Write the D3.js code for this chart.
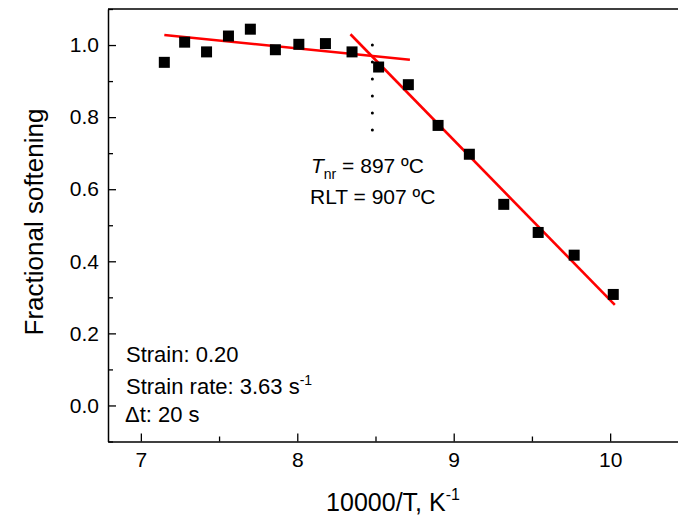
<!DOCTYPE html>
<html>
<head>
<meta charset="utf-8">
<script src="https://cdn.jsdelivr.net/npm/d3@7"></script>
<style>
  body { margin: 0; background: #fff; }
  svg { display: block; font-family: "Liberation Sans", Arial, sans-serif; }
</style>
</head>
<body>
<div id="chart"></div>
<script>
// measured points (10000/T, fractional softening)
var invT = [7.15, 7.28, 7.42, 7.56, 7.70, 7.86, 8.01, 8.18, 8.35, 8.52, 8.71, 8.90, 9.10, 9.32, 9.54, 9.77, 10.02];
var softening = [0.952, 1.008, 0.981, 1.025, 1.044, 0.987, 1.002, 1.004, 0.981, 0.939, 0.890, 0.777, 0.697, 0.558, 0.480, 0.417, 0.308];

// the two red fit lines, as [x1, y1, x2, y2]
var fitLines = [
  [7.15, 1.028, 8.72, 0.959],
  [8.34, 1.030, 10.03, 0.279]
];
// dotted marker at the intersection
var tnrX = 8.48, tnrTop = 1.0, tnrBottom = 0.717;

var xMajor = [7, 8, 9, 10], xMinor = [7.5, 8.5, 9.5];
var yMajor = [0, 0.2, 0.4, 0.6, 0.8, 1.0], yMinor = [-0.1, 0.1, 0.3, 0.5, 0.7, 0.9, 1.1];

var W = 678, H = 527;
var svg = d3.select("#chart").append("svg")
  .attr("width", W)
  .attr("height", H);

var x = d3.scaleLinear().domain([6.79, 10.6]).range([108, 704]);
var y = d3.scaleLinear().domain([-0.1, 1.1]).range([441.5, 9]);

var data = invT.map(function (d, i) { return { x: d, y: softening[i] }; });

// frame (top + right, right edge falls outside the window)
svg.append("path")
  .attr("d", "M" + x.range()[0] + "," + y.range()[1] + "H" + x.range()[1] + "V" + y.range()[0])
  .attr("fill", "none")
  .attr("stroke", "#000")
  .attr("stroke-width", 1.5);

// x axis, ticks pointing inward
var gx = svg.append("g").attr("transform", "translate(0," + y.range()[0] + ")");
gx.call(d3.axisBottom(x).tickValues(xMajor).tickSizeInner(-8).tickSizeOuter(0).tickPadding(11)
  .tickFormat(d3.format("d")));
gx.append("g").call(d3.axisBottom(x).tickValues(xMinor).tickSizeInner(-5).tickSizeOuter(0).tickFormat(""))
  .select(".domain").remove();

var gy = svg.append("g").attr("transform", "translate(" + x.range()[0] + ",0)");
gy.call(d3.axisLeft(y).tickValues(yMajor).tickSizeInner(-8).tickSizeOuter(0).tickPadding(9)
  .tickFormat(d3.format(".1f")));
gy.append("g").call(d3.axisLeft(y).tickValues(yMinor).tickSizeInner(-5).tickSizeOuter(0).tickFormat(""))
  .select(".domain").remove();

svg.selectAll(".domain").attr("stroke-width", 1.5);
svg.selectAll(".tick line").attr("stroke-width", 1.3);
svg.selectAll(".tick text")
  .attr("font-family", "Liberation Sans, Arial, sans-serif")
  .attr("font-size", 21)
  .attr("fill", "#000");

// fit lines
svg.selectAll(".fit")
  .data(fitLines)
  .enter()
  .append("line")
  .attr("class", "fit")
  .attr("x1", function (d) { return x(d[0]); })
  .attr("y1", function (d) { return y(d[1]); })
  .attr("x2", function (d) { return x(d[2]); })
  .attr("y2", function (d) { return y(d[3]); })
  .attr("stroke", "#ff0000")
  .attr("stroke-width", 2.6);

// dotted vertical
svg.append("line")
  .attr("x1", x(tnrX)).attr("x2", x(tnrX))
  .attr("y1", y(tnrTop)).attr("y2", y(tnrBottom))
  .attr("stroke", "#000")
  .attr("stroke-width", 3)
  .attr("stroke-linecap", "round")
  .attr("stroke-dasharray", "0 17");

// square markers
var s = 11;
svg.selectAll(".pt")
  .data(data)
  .enter()
  .append("rect")
  .attr("class", "pt")
  .attr("x", function (d) { return x(d.x) - s / 2; })
  .attr("y", function (d) { return y(d.y) - s / 2; })
  .attr("width", s)
  .attr("height", s)
  .attr("fill", "#000");

// annotations
var t1 = svg.append("text").attr("x", 311).attr("y", 173).attr("font-size", 21);
t1.append("tspan").attr("font-style", "italic").text("T");
t1.append("tspan").attr("font-size", 14).attr("dy", 6).text("nr");
t1.append("tspan").attr("dy", -6).text(" = 897 ºC");

svg.append("text").attr("x", 310).attr("y", 204).attr("font-size", 21).text("RLT = 907 ºC");

svg.append("text").attr("x", 126).attr("y", 362).attr("font-size", 22).text("Strain: 0.20");
var t2 = svg.append("text").attr("x", 126).attr("y", 394).attr("font-size", 22);
t2.append("tspan").text("Strain rate: 3.63 s");
t2.append("tspan").attr("font-size", 14).attr("dy", -9).text("-1");
svg.append("text").attr("x", 125).attr("y", 422).attr("font-size", 22).text("\u0394t: 20 s");

// axis titles
var xt = svg.append("text")
  .attr("x", 393).attr("y", 511)
  .attr("text-anchor", "middle")
  .attr("font-size", 25);
xt.append("tspan").text("10000/T, K");
xt.append("tspan").attr("font-size", 16).attr("dy", -11).text("-1");

svg.append("text")
  .attr("transform", "translate(43,222) rotate(-90)")
  .attr("text-anchor", "middle")
  .attr("font-size", 26)
  .text("Fractional softening");
</script>
</body>
</html>
